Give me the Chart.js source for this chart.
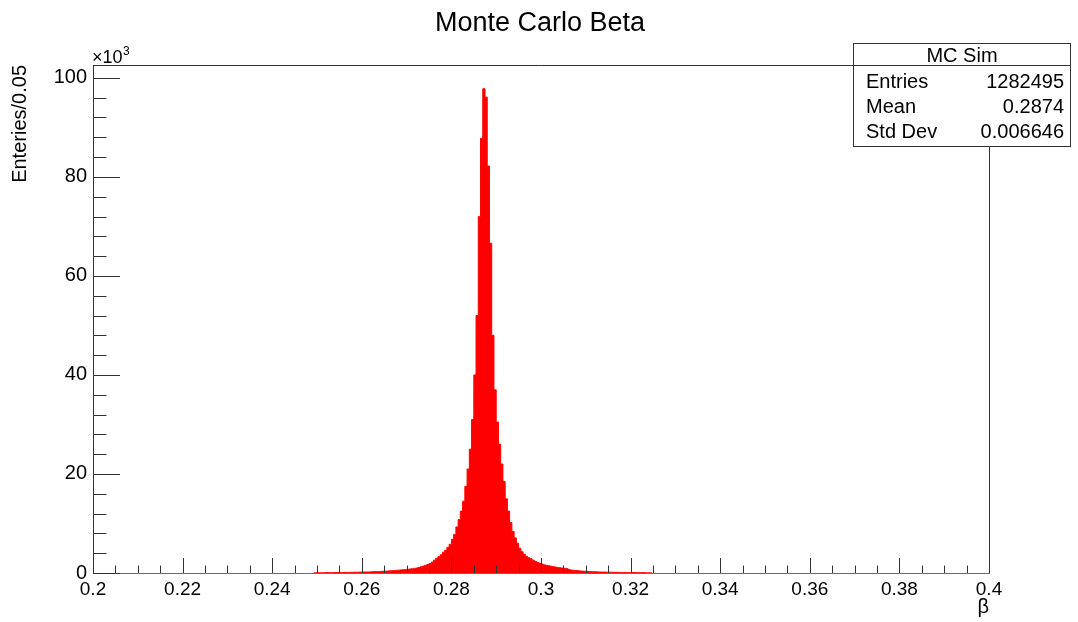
<!DOCTYPE html>
<html>
<head>
<meta charset="utf-8">
<script src="https://cdn.jsdelivr.net/npm/chart.js@4.4.0/dist/chart.umd.min.js"></script>
<style>
  html, body { margin: 0; padding: 0; background: #fff; }
</style>
</head>
<body>
<canvas id="chart" width="1078" height="622"></canvas>
<script>
// histogram binning: 400 bins of 0.0005 over [0.2, 0.4]; values are entries x10^3
const binLow = 0.2;
const binWidth = 0.0005;
const firstBin = 98; // index of first non-empty bin
const counts = [
  0.05, 0.05, 0.06, 0.06, 0.07, 0.07, 0.08, 0.08, 0.09, 0.09, 0.1, 0.1, 0.11, 0.11, 0.12, 0.12, 0.13, 0.14,
  0.15, 0.16, 0.17, 0.18, 0.19, 0.2, 0.21, 0.22, 0.24, 0.26, 0.28, 0.3, 0.32,
  0.34, 0.37, 0.4, 0.43, 0.46, 0.5, 0.54, 0.58, 0.62, 0.66, 0.7, 0.75,
  0.8, 0.85, 0.92, 1.0, 1.1, 1.25, 1.4, 1.55, 1.7, 1.9,
  2.2, 2.6, 3.0, 3.3, 3.7, 4.2, 4.6, 5.2, 5.8, 6.8,
  7.8, 9.3, 10.8, 12.5, 14.5, 17.5, 21, 25, 31, 40,
  52, 72, 87.8, 97.8, 96.1, 82.2, 66.6, 48, 37, 30.5,
  26, 22, 18.5, 15, 12.5, 10.2, 8.4, 7.1, 6.0, 5.0,
  4.3, 3.8, 3.4, 3.1, 2.9, 2.6, 2.35, 2.15, 1.95, 1.8,
  1.65, 1.55, 1.45, 1.38, 1.3, 1.2, 1.12, 1.05, 1.0, 0.95,
  0.9, 0.72, 0.6, 0.55, 0.5, 0.46, 0.42, 0.39, 0.36, 0.33,
  0.3, 0.28, 0.26, 0.24, 0.22, 0.2, 0.19, 0.18, 0.17, 0.16,
  0.15, 0.14, 0.13, 0.13, 0.12, 0.12, 0.12, 0.11, 0.11, 0.1,
  0.1, 0.09, 0.09, 0.08, 0.08, 0.07, 0.07, 0.06, 0.05
];
const xTicks = [0.2, 0.22, 0.24, 0.26, 0.28, 0.3, 0.32, 0.34, 0.36, 0.38, 0.4];
const yTicks = [0, 20, 40, 60, 80, 100];
const statLabels = ["Entries", "Mean", "Std Dev"];
const statValues = ["1282495", "0.2874", "0.006646"];

const FONT = "'Liberation Sans', Arial, Helvetica, sans-serif";

const points = counts.map((v, k) => ({ x: binLow + binWidth * (firstBin + k + 0.5), y: v }));

// ROOT style decorations: inside ticks, frame, title, stats box
const rootStyle = {
  id: "rootStyle",
  afterDraw(chart) {
    const { ctx, chartArea: a, scales: { x, y } } = chart;
    ctx.save();
    ctx.strokeStyle = "#333";
    ctx.lineWidth = 1;

    // y ticks (5 subdivisions per major)
    for (let k = 0; k <= 25; k++) {
      const py = Math.round(y.getPixelForValue(k * 4)) + 0.5;
      if (py < a.top) break;
      const len = k % 5 === 0 ? 27 : 13.5;
      ctx.beginPath();
      ctx.moveTo(a.left, py);
      ctx.lineTo(a.left + len, py);
      ctx.stroke();
    }
    // x ticks
    for (let k = 0; k <= 40; k++) {
      const px = Math.round(x.getPixelForValue(0.2 + k * 0.005)) + 0.5;
      const len = k % 4 === 0 ? 15 : 7.5;
      ctx.beginPath();
      ctx.moveTo(px, a.bottom);
      ctx.lineTo(px, a.bottom - len);
      ctx.stroke();
    }
    // frame top / right
    ctx.beginPath();
    ctx.moveTo(a.left, a.top + 0.5);
    ctx.lineTo(a.right + 0.5, a.top + 0.5);
    ctx.lineTo(a.right + 0.5, a.bottom);
    ctx.stroke();

    ctx.fillStyle = "#000";
    // title
    ctx.font = "27px " + FONT;
    ctx.textAlign = "center";
    ctx.textBaseline = "middle";
    ctx.fillText("Monte Carlo Beta", 540, 24);

    // x10^3
    ctx.textAlign = "left";
    ctx.textBaseline = "alphabetic";
    ctx.font = "18px " + FONT;
    ctx.fillText("\u00d710", 92, 63);
    ctx.font = "12px " + FONT;
    ctx.fillText("3", 123, 55);

    // axis titles
    ctx.font = "20px " + FONT;
    ctx.textAlign = "right";
    ctx.textBaseline = "middle";
    ctx.fillText("\u03b2", a.right, 607);
    ctx.save();
    ctx.translate(20, a.top);
    ctx.rotate(-Math.PI / 2);
    ctx.fillText("Enteries/0.05", 0, 0);
    ctx.restore();

    // stats box
    const bx = 853.5, by = 43.5, bw = 217, bh = 103;
    ctx.fillStyle = "#fff";
    ctx.fillRect(bx, by, bw, bh);
    ctx.strokeRect(bx, by, bw, bh);
    ctx.beginPath();
    ctx.moveTo(bx, 65.5);
    ctx.lineTo(bx + bw, 65.5);
    ctx.stroke();
    ctx.fillStyle = "#000";
    ctx.font = "20px " + FONT;
    ctx.textAlign = "center";
    ctx.fillText("MC Sim", 962, 56);
    statLabels.forEach((lab, i) => {
      const ty = 82 + i * 25;
      ctx.textAlign = "left";
      ctx.fillText(lab, 866, ty);
      ctx.textAlign = "right";
      ctx.fillText(statValues[i], 1064, ty);
    });
    ctx.restore();
  }
};

new Chart(document.getElementById("chart"), {
  type: "line",
  data: {
    datasets: [{
      label: "MC Sim",
      data: points,
      stepped: "middle",
      fill: "origin",
      backgroundColor: "#ff0000",
      borderColor: "#ff0000",
      borderWidth: 1,
      pointRadius: 0
    }]
  },
  options: {
    responsive: false,
    animation: false,
    devicePixelRatio: 1,
    layout: { padding: { top: 65, right: 89, left: 0, bottom: 0 } },
    plugins: {
      legend: { display: false },
      tooltip: { enabled: false },
      title: { display: false }
    },
    scales: {
      x: {
        type: "linear",
        min: 0.2,
        max: 0.4,
        offset: false,
        grid: { display: false, drawTicks: false, tickLength: 0 },
        border: { display: true, color: "#e03a3a", width: 1 },
        afterFit: s => { s.height = 49; },
        afterBuildTicks: s => { s.ticks = xTicks.map(v => ({ value: v })); },
        ticks: {
          autoSkip: false,
          maxRotation: 0,
          padding: 5,
          color: "#000",
          font: { family: FONT, size: 19 },
          callback: v => String(+v.toFixed(2))
        }
      },
      y: {
        min: 0,
        max: 102.6,
        grid: { display: false, drawTicks: false, tickLength: 0 },
        border: { display: true, color: "#333", width: 1 },
        afterFit: s => { s.width = 93; },
        afterBuildTicks: s => { s.ticks = yTicks.map(v => ({ value: v })); },
        ticks: {
          padding: 6,
          color: "#000",
          font: { family: FONT, size: 20 }
        }
      }
    }
  },
  plugins: [rootStyle]
});
</script>
</body>
</html>
